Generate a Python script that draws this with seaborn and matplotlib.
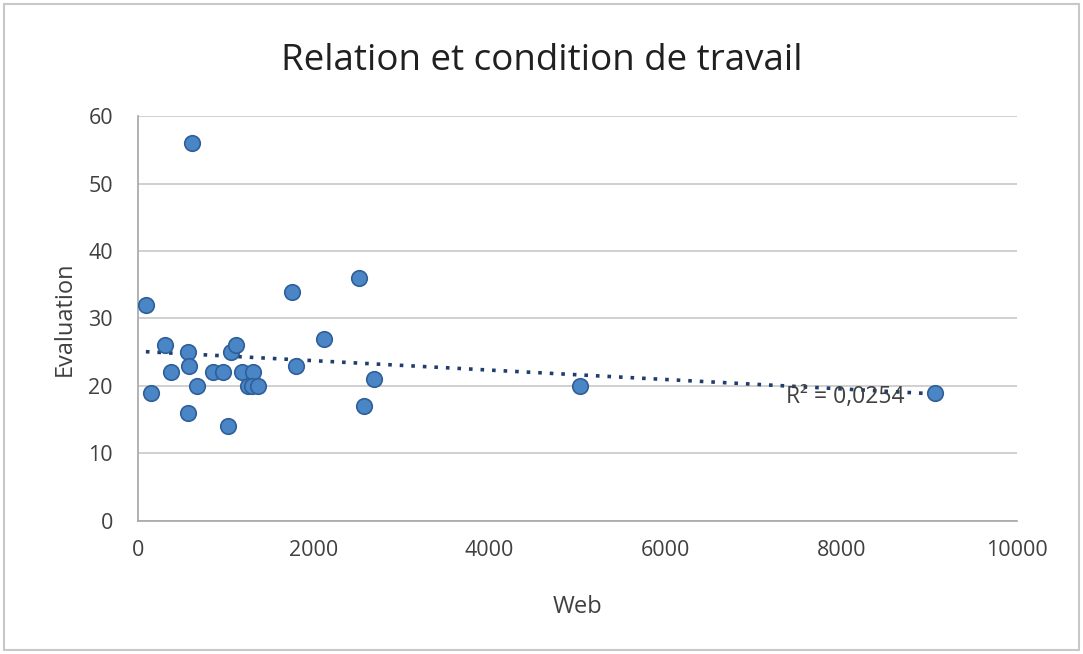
import numpy as np
import pandas as pd
import seaborn as sns
import matplotlib.pyplot as plt
from matplotlib.patches import Rectangle

# Web score vs. evaluation per respondent
web = [90, 307, 372, 144, 565, 584, 668, 565, 618, 1028, 850, 971, 1058, 1115,
       1180, 1312, 1250, 1300, 1369, 1748, 2518, 2120, 1797, 2688, 2575, 5030, 9067]
evaluation = [32, 26, 22, 19, 25, 23, 20, 16, 56, 14, 22, 22, 25, 26,
              22, 22, 20, 20, 20, 34, 36, 27, 23, 21, 17, 20, 19]

title = "Relation et condition de travail"
x_label = "Web"
y_label = "Evaluation"
r2_label = "R² = 0,0254"
x_ticks = [0, 2000, 4000, 6000, 8000, 10000]
y_ticks = [0, 10, 20, 30, 40, 50, 60]

df = pd.DataFrame({"Web": web, "Evaluation": evaluation})

sns.set_theme(style="white")
plt.rcParams["font.family"] = ["Open Sans", "DejaVu Sans"]

fig = plt.figure(figsize=(10.83, 6.54), dpi=100)
ax = fig.add_axes([0.1274, 0.2034, 0.939 - 0.1274, 0.8226 - 0.2034])

# Linear trend line across the data range
slope, intercept = np.polyfit(df["Web"], df["Evaluation"], 1)
xs = np.array([df["Web"].min(), df["Web"].max()])
ax.plot(xs, slope * xs + intercept, linestyle=(0, (1, 2.2)), color="#1f3e6e",
        linewidth=2.6, zorder=2)

sns.scatterplot(data=df, x="Web", y="Evaluation", ax=ax, s=125,
                color="#4a85c5", edgecolor="#2f5f9a", linewidth=1.2, zorder=3)

ax.text(8050, 18.4, r2_label, ha="center", va="center", fontsize=16.5,
        color="#404040", zorder=4)

ax.set_xlim(0, 10000)
ax.set_ylim(0, 60)
ax.set_xticks(x_ticks)
ax.set_yticks(y_ticks)
ax.tick_params(axis="y", labelsize=15.5, colors="#404040", length=0, pad=18)
ax.tick_params(axis="x", labelsize=15.5, colors="#404040", length=0, pad=14)
ax.yaxis.grid(True, color="#c8c8c8", linewidth=1.2)
ax.xaxis.grid(False)
for side in ["top", "right"]:
    ax.spines[side].set_visible(False)
for side in ["left", "bottom"]:
    ax.spines[side].set_color("#a6a6a6")
    ax.spines[side].set_linewidth(1.2)

ax.set_xlabel(x_label, fontsize=17, color="#404040", labelpad=24)
ax.set_ylabel(y_label, fontsize=17, color="#404040", labelpad=8)
fig.suptitle(title, fontsize=26.5, color="#202020", y=0.935)

# Chart frame
fig.patches.append(Rectangle((0.004, 0.006), 0.992, 0.988, transform=fig.transFigure,
                             fill=False, edgecolor="#c8c8c8", linewidth=1.5))

fig.savefig("out.png", dpi=100)
